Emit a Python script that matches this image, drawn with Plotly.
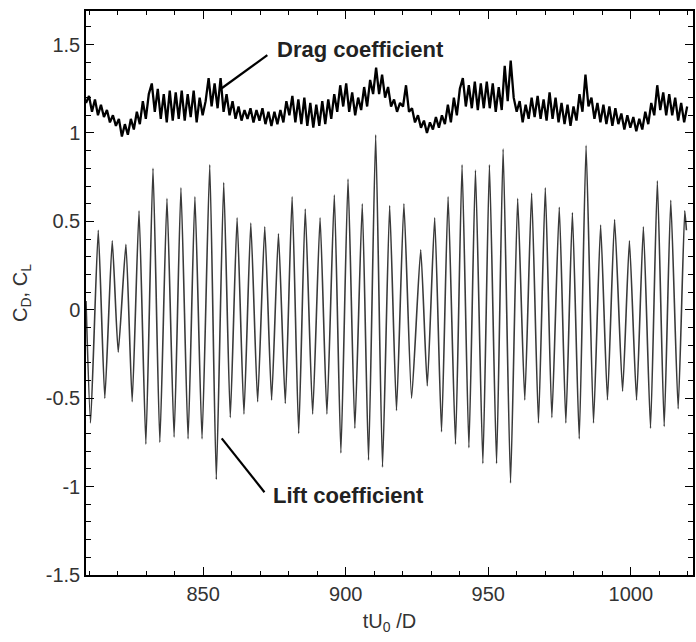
import numpy as np
import plotly.graph_objects as go

# Lift coefficient: sequence of extrema (time tU0/D, CL)
lift_t = [808.9, 810.5, 813.2, 815.5, 818.1, 820.2, 822.9, 825.1, 827.5, 829.9, 832.4,
          834.8, 837.3, 839.8, 842.2, 844.7, 847.1, 849.6, 852.3, 854.6, 857.2,
          859.5, 861.9, 864.3, 866.7, 869.1, 871.6, 874.0, 876.4, 878.8, 881.2,
          883.5, 885.8, 888.4, 891.0, 893.4, 896.0, 898.3, 900.8, 903.2, 905.8,
          908.0, 910.5, 912.9, 915.4, 917.8, 920.4, 923.1, 926.3, 928.6, 931.2,
          933.6, 935.9, 938.5, 940.8, 943.2, 945.5, 948.1, 950.4, 952.9, 955.2,
          957.8, 960.3, 962.8, 965.2, 967.6, 970.0, 972.3, 974.9, 977.2, 979.5,
          981.9, 984.3, 986.9, 989.4, 991.8, 994.3, 997.1, 999.5, 1002.0, 1004.4,
          1006.9, 1009.3, 1011.7, 1014.0, 1016.6, 1018.9, 1019.5]
lift_cl = [0.05, -0.64, 0.45, -0.50, 0.39, -0.24, 0.37, -0.52, 0.56, -0.76, 0.80,
           -0.75, 0.63, -0.72, 0.69, -0.73, 0.64, -0.73, 0.82, -0.96, 0.72,
           -0.61, 0.52, -0.59, 0.49, -0.52, 0.47, -0.51, 0.43, -0.53, 0.64,
           -0.70, 0.57, -0.59, 0.52, -0.59, 0.65, -0.81, 0.74, -0.67, 0.60,
           -0.85, 0.99, -0.89, 0.59, -0.57, 0.60, -0.50, 0.34, -0.43, 0.52,
           -0.69, 0.64, -0.76, 0.82, -0.78, 0.79, -0.87, 0.82, -0.87, 0.91,
           -0.98, 0.63, -0.51, 0.66, -0.64, 0.69, -0.61, 0.58, -0.64, 0.55,
           -0.73, 0.93, -0.64, 0.48, -0.51, 0.51, -0.46, 0.39, -0.51, 0.47,
           -0.67, 0.73, -0.66, 0.62, -0.56, 0.56, 0.45]

# Drag coefficient: sampled signal (start time, sampling step, CD samples)
drag_t0 = 808.9
drag_dt = 1.049
drag_cd = [1.17, 1.21, 1.12, 1.19, 1.10, 1.16, 1.09, 1.13, 1.06, 1.10,
           1.04, 1.08, 0.98, 1.05, 0.99, 1.08, 1.02, 1.12, 1.05, 1.18,
           1.08, 1.22, 1.28, 1.12, 1.25, 1.08, 1.22, 1.06, 1.24, 1.07,
           1.23, 1.08, 1.24, 1.07, 1.22, 1.09, 1.24, 1.06, 1.20, 1.10,
           1.18, 1.31, 1.15, 1.28, 1.14, 1.31, 1.12, 1.22, 1.10, 1.18,
           1.08, 1.15, 1.07, 1.13, 1.08, 1.14, 1.06, 1.13, 1.07, 1.14,
           1.05, 1.12, 1.04, 1.12, 1.05, 1.13, 1.06, 1.18, 1.10, 1.21,
           1.06, 1.19, 1.05, 1.20, 1.04, 1.17, 1.03, 1.16, 1.04, 1.18,
           1.05, 1.19, 1.08, 1.22, 1.12, 1.27, 1.15, 1.28, 1.12, 1.23,
           1.10, 1.20, 1.13, 1.26, 1.15, 1.30, 1.22, 1.37, 1.22, 1.33,
           1.20, 1.26, 1.15, 1.19, 1.12, 1.17, 1.15, 1.27, 1.12, 1.14,
           1.06, 1.10, 1.03, 1.07, 1.00, 1.06, 1.02, 1.09, 1.03, 1.10,
           1.05, 1.16, 1.06, 1.20, 1.10, 1.25, 1.31, 1.15, 1.27, 1.14,
           1.29, 1.13, 1.28, 1.14, 1.29, 1.14, 1.28, 1.12, 1.26, 1.13,
           1.38, 1.18, 1.41, 1.20, 1.12, 1.18, 1.06, 1.16, 1.08, 1.20,
           1.09, 1.21, 1.08, 1.19, 1.07, 1.23, 1.08, 1.20, 1.06, 1.17,
           1.05, 1.16, 1.04, 1.15, 1.07, 1.22, 1.12, 1.33, 1.15, 1.20,
           1.08, 1.17, 1.06, 1.16, 1.05, 1.15, 1.04, 1.14, 1.05, 1.11,
           1.02, 1.10, 1.03, 1.09, 1.01, 1.08, 1.02, 1.12, 1.05, 1.17,
           1.10, 1.27, 1.13, 1.23, 1.10, 1.22, 1.10, 1.20, 1.07, 1.17,
           1.06, 1.15]
drag_t = drag_t0 + drag_dt * np.arange(len(drag_cd))

x_range = [808.9, 1021.8]
y_range = [-1.5, 1.69]
x_ticks = [850, 900, 950, 1000]
y_ticks = [-1.5, -1, -0.5, 0, 0.5, 1, 1.5]
y_ticklabels = ["-1.5", "-1", "-0.5", "0", "0.5", "1", "1.5"]

fig = go.Figure()
fig.add_trace(go.Scatter(x=lift_t, y=lift_cl, mode="lines",
                         line=dict(color="#3a3a3a", width=1.6, shape="spline", smoothing=0.5),
                         showlegend=False))
fig.add_trace(go.Scatter(x=drag_t, y=drag_cd, mode="lines",
                         line=dict(color="#000000", width=2.3), showlegend=False))

font_fam = "Liberation Sans, Arial, sans-serif"
axis_common = dict(showline=True, linecolor="#000", linewidth=1.5, mirror="ticks",
                   ticks="inside", ticklen=8, tickwidth=1.3, tickcolor="#000",
                   showgrid=False, zeroline=False,
                   tickfont=dict(family=font_fam, size=20, color="#333"))
fig.update_xaxes(range=x_range, tickvals=x_ticks, **axis_common,
                 minor=dict(ticks="inside", ticklen=4, dtick=10, tick0=800, tickcolor="#000", tickwidth=1.2),
                 title=dict(text="tU<sub>0</sub> /D", font=dict(family=font_fam, size=20, color="#333"), standoff=10))
fig.update_yaxes(range=y_range, tickvals=y_ticks, ticktext=y_ticklabels, **axis_common,
                 minor=dict(ticks="inside", ticklen=5, dtick=0.1, tick0=0, tickcolor="#000", tickwidth=1.2),
                 title=dict(text="C<sub>D</sub>, C<sub>L</sub>", font=dict(family=font_fam, size=20, color="#333"), standoff=13))

fig.add_shape(type="line", x0=856.5, y0=1.253, x1=872.5, y1=1.44,
              line=dict(color="#000", width=2.2))
fig.add_shape(type="line", x0=856.5, y0=-0.727, x1=871.5, y1=-1.032,
              line=dict(color="#000", width=2.2))
fig.add_annotation(x=875.3, y=1.47, text="<b>Drag coefficient</b>", showarrow=False,
                   xanchor="left", yanchor="middle",
                   font=dict(family=font_fam, size=22, color="#222"))
fig.add_annotation(x=873.9, y=-1.05, text="<b>Lift coefficient</b>", showarrow=False,
                   xanchor="left", yanchor="middle",
                   font=dict(family=font_fam, size=22, color="#222"))

fig.update_layout(width=696, height=642, margin=dict(l=86, r=1, t=11, b=67),
                  plot_bgcolor="white", paper_bgcolor="white")
fig.write_html("out.html")
